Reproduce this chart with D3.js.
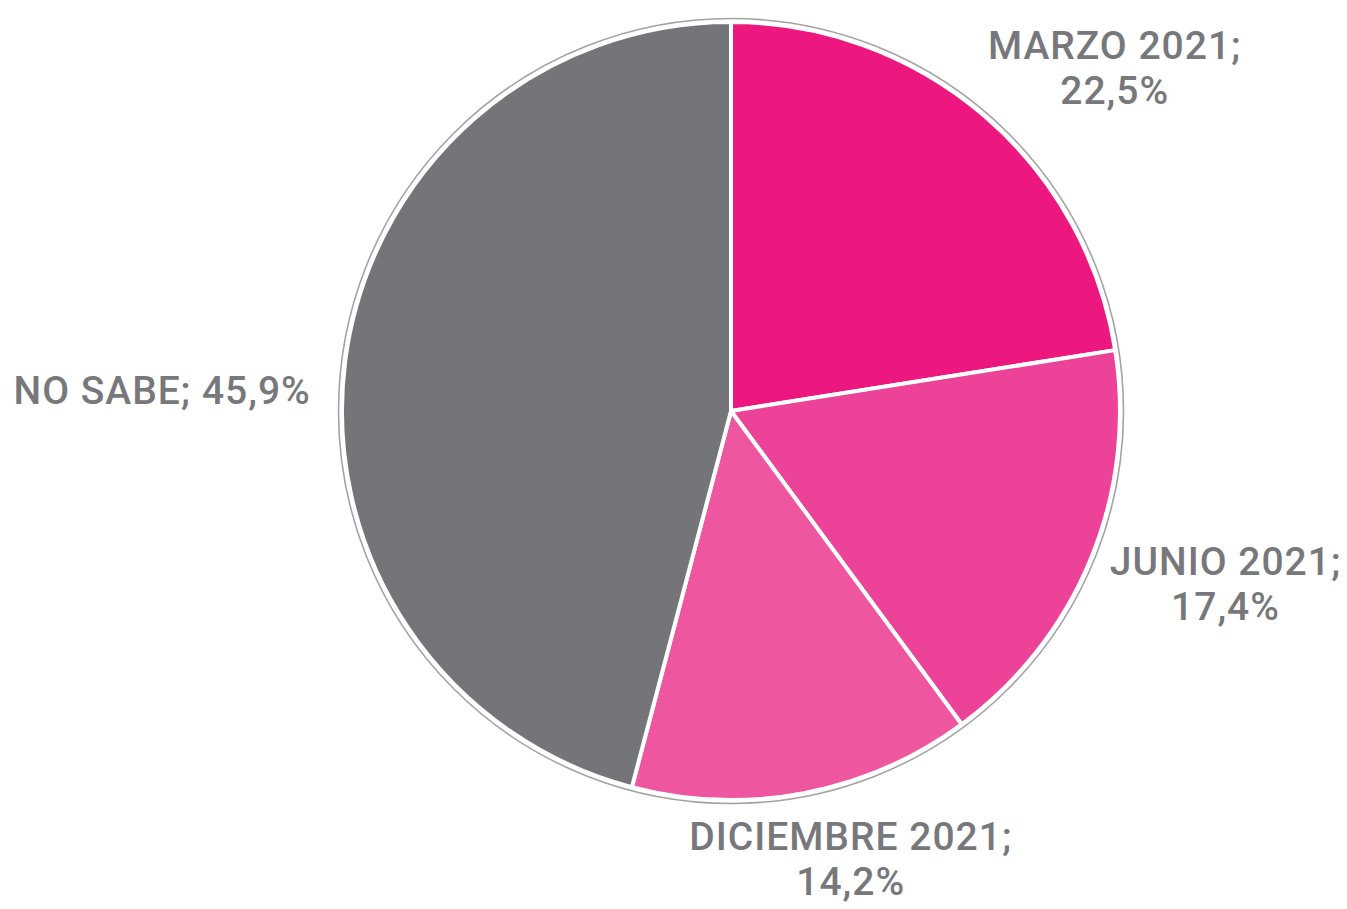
<!DOCTYPE html>
<html>
<head>
    <meta charset="utf-8">
    <script src="https://d3js.org/d3.v7.min.js"></script>
    <style>
        body { margin: 0; background: #fff; }
        .lbl { font-family: 'Roboto'; font-weight: 500; font-size: 39px; letter-spacing: 1px; fill: rgb(119, 120, 123); }
    </style>
</head>
<body>
    <svg width="1347" height="909"></svg>
    <script>
        // data, clockwise from 12 o'clock
        const categories = ["MARZO 2021", "JUNIO 2021", "DICIEMBRE 2021", "NO SABE"];
        const values = [22.5, 17.4, 14.2, 45.9];
        const valueLabels = ["22,5%", "17,4%", "14,2%", "45,9%"];

        const colors = ["#ED1780", "#EC4398", "#EF56A0", "#737578"];

        let cx = 731, cy = 411, r = 389;

        let svg = d3.select("svg");
        let g = svg.append("g").attr("transform", `translate(${cx},${cy})`);

        let slices = categories.map((c, i) => ({name: c, value: values[i], label: valueLabels[i], color: colors[i]}));

        let pie = d3.pie().sort(null).value(d => d.value);
        let arc = d3.arc().innerRadius(0).outerRadius(r);
        let arcs = pie(slices);

        // thin grey outline around the whole pie
        g.append("circle")
            .attr("r", r + 3.5)
            .attr("fill", "none")
            .attr("stroke", "#a3a3a3")
            .attr("stroke-width", 1.6);

        g.selectAll("path.slice")
            .data(arcs)
            .join("path")
            .attr("class", "slice")
            .attr("d", arc)
            .attr("fill", d => d.data.color)
            .attr("stroke", "#fff")
            .attr("stroke-width", 4)
            .attr("stroke-linejoin", "round");

        // labels: start from a point outside the slice, then nudge like the original layout
        let labelArc = d3.arc().innerRadius(500).outerRadius(500);
        let nudge = [[59, 37], [32, -17], [26, -44], [-73, 43]];
        let lineGap = 45;

        arcs.forEach((d, i) => {
            let [x, y] = labelArc.centroid(d);
            x += nudge[i][0];
            y += nudge[i][1];
            let t = g.append("text")
                .attr("class", "lbl")
                .attr("text-anchor", "middle");
            if (d.data.name === "NO SABE") {
                t.append("tspan").attr("x", x).attr("y", y + 14)
                    .text(d.data.name + "; " + d.data.label);
            } else {
                t.append("tspan").attr("x", x).attr("y", y - lineGap / 2 + 14)
                    .text(d.data.name + ";");
                t.append("tspan").attr("x", x).attr("y", y + lineGap / 2 + 14)
                    .text(d.data.label);
            }
        });
    </script>
</body>
</html>
